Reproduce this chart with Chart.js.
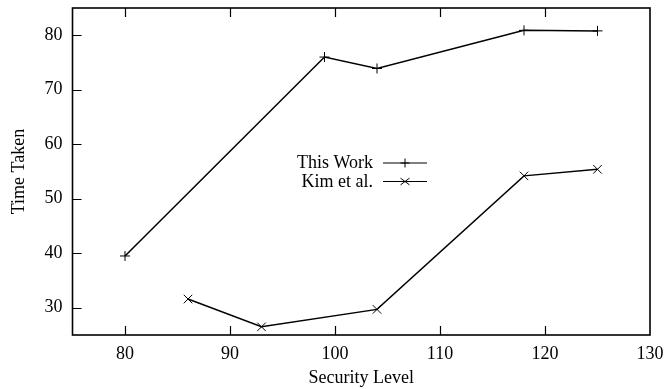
<!DOCTYPE html>
<html>
<head>
<meta charset="utf-8">
<script src="https://cdn.jsdelivr.net/npm/chart.js@4/dist/chart.umd.min.js"></script>
<style>
  html, body { margin: 0; padding: 0; background: #fff; }
  #wrap { width: 666px; height: 389px; }
</style>
</head>
<body>
<div id="wrap"><canvas id="c" width="666" height="389"></canvas></div>
<script>
// ---- data ----
const thisWorkX = [80, 99, 104, 118, 125];
const thisWorkY = [39.5, 76.0, 73.9, 80.9, 80.8];
const kimX = [86, 93, 104, 118, 125];
const kimY = [31.6, 26.5, 29.7, 54.2, 55.4];
const xTickValues = [80, 90, 100, 110, 120, 130];
const yTickValues = [30, 40, 50, 60, 70, 80];
const seriesLabels = ['This Work', 'Kim et al.'];
const xTitle = 'Security Level';
const yTitle = 'Time Taken';

const FONT = '"Liberation Serif", "Times New Roman", serif';
const FS = 18;

function toPoints(xs, ys) { return xs.map((x, i) => ({ x: x, y: ys[i] })); }

const framePlugin = {
  id: 'frame',
  afterDraw(chart) {
    const ctx = chart.ctx;
    const a = chart.chartArea;
    const xs = chart.scales.x, ys = chart.scales.y;
    ctx.save();
    ctx.strokeStyle = '#000';
    // ticks
    ctx.lineWidth = 1.2;
    ctx.beginPath();
    xTickValues.forEach(v => {
      const px = Math.round(xs.getPixelForValue(v)) + 0.5;
      if (px > a.left + 1 && px < a.right - 1) {
        ctx.moveTo(px, a.bottom); ctx.lineTo(px, a.bottom - 9);
        ctx.moveTo(px, a.top); ctx.lineTo(px, a.top + 9);
      }
    });
    yTickValues.forEach(v => {
      const py = Math.round(ys.getPixelForValue(v)) + 0.5;
      ctx.moveTo(a.left, py); ctx.lineTo(a.left + 9, py);
    });
    ctx.stroke();
    // border box
    ctx.lineWidth = 1.6;
    ctx.strokeRect(a.left, a.top, a.right - a.left, a.bottom - a.top);

    // legend
    const styles = ['cross', 'crossRot'];
    const rows = [163, 181.5];
    ctx.font = FS + 'px ' + FONT;
    ctx.fillStyle = '#000';
    ctx.textAlign = 'right';
    ctx.textBaseline = 'middle';
    chart.data.datasets.forEach((ds, i) => {
      const y = rows[i];
      ctx.fillText(ds.label, 373, y + 0.5);
      ctx.lineWidth = 1.2;
      ctx.beginPath();
      ctx.moveTo(383, y); ctx.lineTo(427, y);
      ctx.stroke();
      const cx = 405, r = 4.5;
      ctx.lineWidth = 1;
      ctx.beginPath();
      if (styles[i] === 'cross') {
        ctx.moveTo(cx - r, y); ctx.lineTo(cx + r, y);
        ctx.moveTo(cx, y - r); ctx.lineTo(cx, y + r);
      } else {
        ctx.moveTo(cx - r, y - r * 0.75); ctx.lineTo(cx + r, y + r * 0.75);
        ctx.moveTo(cx - r, y + r * 0.75); ctx.lineTo(cx + r, y - r * 0.75);
      }
      ctx.stroke();
    });
    ctx.restore();
  }
};

new Chart(document.getElementById('c'), {
  type: 'scatter',
  data: {
    datasets: [
      {
        label: seriesLabels[0],
        data: toPoints(thisWorkX, thisWorkY),
        showLine: true,
        borderColor: '#000',
        borderWidth: 1.5,
        backgroundColor: '#000',
        pointStyle: 'cross',
        pointRadius: 5,
        pointBorderWidth: 1,
        pointBorderColor: '#000',
        tension: 0
      },
      {
        label: seriesLabels[1],
        data: toPoints(kimX, kimY),
        showLine: true,
        borderColor: '#000',
        borderWidth: 1.5,
        backgroundColor: '#000',
        pointStyle: 'crossRot',
        pointRadius: 6,
        pointBorderWidth: 1,
        pointBorderColor: '#000',
        tension: 0
      }
    ]
  },
  options: {
    responsive: false,
    animation: false,
    devicePixelRatio: 1,
    layout: { padding: { top: 8, right: 16, left: 0, bottom: 0 } },
    plugins: { legend: { display: false }, tooltip: { enabled: false } },
    scales: {
      x: {
        type: 'linear',
        min: 75, max: 130,
        afterBuildTicks: s => { s.ticks = xTickValues.map(v => ({ value: v })); },
        afterFit: s => { s.height = 54; s.paddingLeft = 0; s.paddingRight = 0; },
        grid: { display: false, drawTicks: false },
        border: { display: false },
        ticks: { color: '#000', font: { family: FONT, size: FS }, padding: 8, maxRotation: 0 },
        title: { display: true, text: xTitle, color: '#000', font: { family: FONT, size: FS }, padding: { top: 0, bottom: 0 } }
      },
      y: {
        type: 'linear',
        min: 25, max: 85,
        afterBuildTicks: s => { s.ticks = yTickValues.map(v => ({ value: v })); },
        afterFit: s => { s.width = 72.5; s.paddingTop = 0; s.paddingBottom = 0; },
        grid: { display: false, drawTicks: false },
        border: { display: false },
        ticks: { color: '#000', font: { family: FONT, size: FS }, padding: 10 },
        title: { display: true, text: yTitle, color: '#000', font: { family: FONT, size: FS }, padding: { top: 8, bottom: 0 } }
      }
    }
  },
  plugins: [framePlugin]
});
</script>
</body>
</html>
